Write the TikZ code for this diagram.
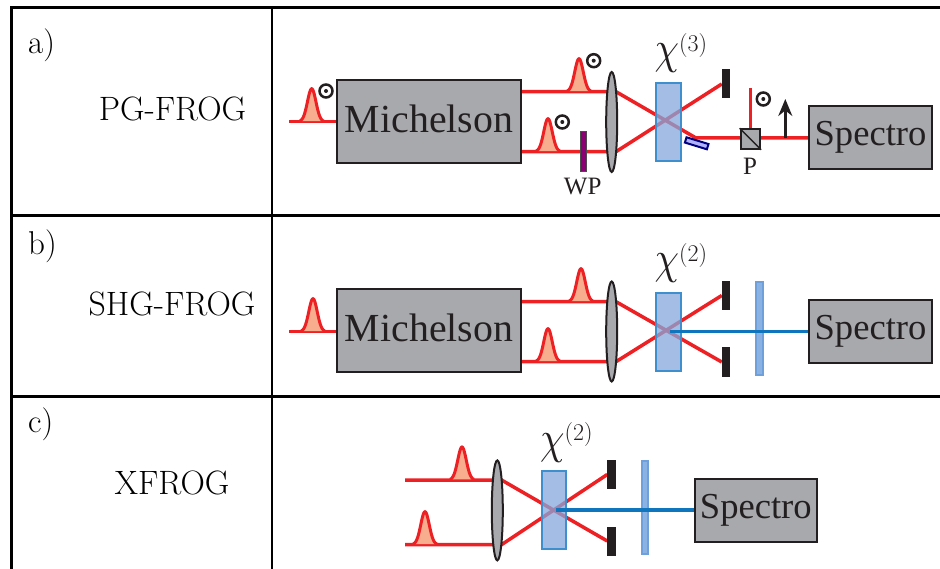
\documentclass[tikz,border=0pt]{standalone}
\usepackage{fontspec}
\usepackage{xcolor}
\usepackage{tikz}
\usetikzlibrary{shapes.geometric,arrows.meta,backgrounds}
\newfontfamily\figfont{Liberation Serif}
\definecolor{boxgrey}{HTML}{A7A9AC}
\definecolor{inkblack}{HTML}{231F20}
\definecolor{beamred}{HTML}{ED2024}
\definecolor{pulsefill}{HTML}{F9AD8F}
\definecolor{beamblue}{HTML}{0F75BC}
\definecolor{crysfill}{HTML}{85A7DB}
\definecolor{crysedge}{HTML}{3F8FCF}
\definecolor{filterfill}{HTML}{8AB2E2}
\definecolor{filteredge}{HTML}{6FA0DC}

\begin{document}
\begin{tikzpicture}[
  x=1pt, y=-1pt,
  frame/.style={line width=3pt, black},
  tag/.style={anchor=base west, inner sep=0pt, font=\fontsize{33}{36}\selectfont, text=black},
  title/.style={anchor=base, inner sep=0pt, font=\fontsize{33.8}{38}\selectfont, text=black},
  michbox/.style={rectangle, draw=inkblack, fill=boxgrey, line width=2pt, inner sep=0pt, minimum width=184pt, minimum height=83pt, font=\figfont\fontsize{39.8}{44}\selectfont, text=inkblack, text height=29pt, text depth=7.6pt},
  specbox/.style={rectangle, draw=inkblack, fill=boxgrey, line width=2pt, inner sep=0pt, minimum width=122.5pt, minimum height=63.5pt, font=\figfont\fontsize{36.6}{40}\selectfont, text=inkblack, text height=27pt, text depth=10.4pt},
  lens/.style={ellipse, draw=inkblack, fill=boxgrey, line width=2pt, inner sep=0pt, minimum width=11pt, minimum height=100pt},
  crystal/.style={rectangle, draw=crysedge, fill=crysfill, fill opacity=.75, line width=2pt, inner sep=0pt, minimum width=24.7pt, minimum height=78pt},
  block/.style={rectangle, fill=inkblack, inner sep=0pt, minimum width=8.5pt, minimum height=29pt},
  filter/.style={rectangle, draw=filteredge, fill=filterfill, line width=2pt, inner sep=0pt, minimum width=6.5pt, minimum height=93pt},
  chilabel/.style={anchor=base west, inner sep=0pt, text=inkblack},
  beam/.style={line width=3.5pt, beamred},
  bluebeam/.style={line width=3.5pt, beamblue},
  partlabel/.style={inner sep=0pt, anchor=base, font=\figfont\fontsize{25}{28}\selectfont, text=inkblack},
  pulse/.pic={
    \fill[pulsefill] plot[domain=-12:12, samples=41] (\x,{-33*exp(0-(\x*\x)/36)});
    \draw[line width=3pt, beamred] plot[domain=-12:12, samples=41] (\x,{-33*exp(0-(\x*\x)/36)});
  },
  poldot/.pic={
    \draw[line width=2.5pt, inkblack] (0,0) circle (6.5pt);
    \fill[inkblack] (0,0) circle (2pt);
  }
]
  \useasboundingbox (0,0) rectangle (940,569);

  % Table lines
  \draw[frame] (11.7,569) -- (11.7,8) -- (940,8);
  \draw[frame] (11.7,216) -- (940,216);
  \draw[frame] (11.7,396) -- (940,396);
  \draw[frame, line width=2.5pt] (272,8) -- (272,569);

  % Row labels
  \node[tag] (TagA) at (28,53.5) {a)};
  \node[tag] (TagB) at (28,254.5) {b)};
  \node[tag] (TagC) at (28,432.5) {c)};
  \node[title] (TitleA) at (172.5,121) {PG-FROG};
  \node[title] (TitleB) at (172,316) {SHG-FROG};
  \node[title] (TitleC) at (172,494) {XFROG};

  % Row a
  \node[michbox] (MichA) at (429,122) {Michelson};
  \node[lens] (LensA) at (611.7,122) {};
  \node[crystal] (CrysA) at (668.3,121.7) {};
  \node[block] (BlockA) at (726.2,84) {};
  \node[rectangle, draw=black!70, fill=violet!80!purple, line width=1.5pt, inner sep=0pt, minimum width=6pt, minimum height=40pt] (PlateA) at (583.3,151.3) {};
  \node[rectangle, rotate=-17, draw=blue!50!black, fill=blue!30!white, line width=2pt, inner sep=0pt, minimum width=23pt, minimum height=5.5pt] (MirrorA) at (696.7,143.3) {};
  \node[rectangle, draw=inkblack, fill=boxgrey, line width=2pt, inner sep=0pt, minimum size=19.5pt] (CubeA) at (750.3,139) {};
  \node[specbox] (SpecA) at (870.5,137.7) {Spectro};
  \node[chilabel] (ChiA) at (654.5,64) {\scalebox{3.9}[4.6]{$\chi$}\raisebox{12.5pt}{\fontsize{24}{26}\selectfont(3)}};
  \node[partlabel] (LabelWP) at (582.7,195) {WP};
  \node[partlabel] (LabelP) at (750,175) {P};

  \coordinate (InA) at (289,121.7);
  \coordinate (UpA) at (616,91.7);
  \coordinate (LowA) at (616,151.7);
  \coordinate (TurnA) at (696,138);
  \coordinate (TopA) at (750.3,88);
  \coordinate (ArrowA) at (785.3,138);
  \coordinate (PolA) at (785.3,99);

  \begin{scope}[on background layer]
    \draw[beam] (InA) -- (MichA.west |- InA);
    \draw[beam] (MichA.east |- UpA) -- (UpA) -- (TurnA) -- (SpecA.west |- TurnA);
    \draw[beam] (MichA.east |- LowA) -- (LowA) -- (BlockA.west);
    \draw[beam] (CubeA.north) -- (TopA);
  \end{scope}
  \draw (CubeA.north west) edge[line width=1.5pt, inkblack] (CubeA.south east);
  \draw[line width=2.5pt, inkblack, -{Stealth[width=14pt,length=17pt]}] (ArrowA) -- (PolA);

  \pic at (311.7,121.7) {pulse};
  \pic at (579,91.7) {pulse};
  \pic at (548,151.7) {pulse};
  \pic at (326,91) {poldot};
  \pic at (593.7,60.7) {poldot};
  \pic at (562.3,122) {poldot};
  \pic at (763.3,99) {poldot};

  % Row b
  \node[michbox] (MichB) at (429,330.4) {Michelson};
  \node[lens] (LensB) at (611.7,331.5) {};
  \node[crystal] (CrysB) at (668.3,331.7) {};
  \node[block] (BlockB) at (726.2,295.5) {};
  \node[block] (BlockBB) at (726.2,362) {};
  \node[filter] (FilterB) at (759.5,328.5) {};
  \node[specbox] (SpecB) at (870.5,331.3) {Spectro};
  \node[chilabel] (ChiB) at (654.5,274) {\scalebox{3.9}[4.6]{$\chi$}\raisebox{12.5pt}{\fontsize{24}{26}\selectfont(2)}};

  \coordinate (InB) at (289,331.7);
  \coordinate (UpB) at (616,301.7);
  \coordinate (LowB) at (616,361.7);
  \coordinate (PumpB) at (670,331.3);

  \begin{scope}[on background layer]
    \draw[beam] (InB) -- (MichB.west |- InB);
    \draw[beam] (MichB.east |- UpB) -- (UpB) -- (BlockBB.west);
    \draw[beam] (MichB.east |- LowB) -- (LowB) -- (BlockB.west);
  \end{scope}
  \draw[bluebeam] (PumpB) -- (SpecB.west |- PumpB);

  \pic at (313,331.7) {pulse};
  \pic at (581,301.7) {pulse};
  \pic at (548,361.7) {pulse};

  % Row c
  \node[lens] (LensC) at (497.3,510.4) {};
  \node[crystal] (CrysC) at (554,510.3) {};
  \node[block] (BlockC) at (611.7,474.5) {};
  \node[block] (BlockCC) at (611.7,541) {};
  \node[filter] (FilterC) at (644.9,507.5) {};
  \node[specbox] (SpecC) at (755.8,510.3) {Spectro};
  \node[chilabel] (ChiC) at (540,453) {\scalebox{3.9}[4.6]{$\chi$}\raisebox{12.5pt}{\fontsize{24}{26}\selectfont(2)}};

  \coordinate (UpInC) at (405,480);
  \coordinate (LowInC) at (405,544.7);
  \coordinate (UpC) at (501.5,480);
  \coordinate (LowC) at (501.5,544.7);
  \coordinate (PumpC) at (555.5,510);

  \begin{scope}[on background layer]
    \draw[beam] (UpInC) -- (UpC) -- (BlockCC.west);
    \draw[beam] (LowInC) -- (LowC) -- (BlockC.west);
  \end{scope}
  \draw[bluebeam] (PumpC) -- (SpecC.west |- PumpC);

  \pic at (462,480) {pulse};
  \pic at (425,544.7) {pulse};

\end{tikzpicture}
\end{document}
